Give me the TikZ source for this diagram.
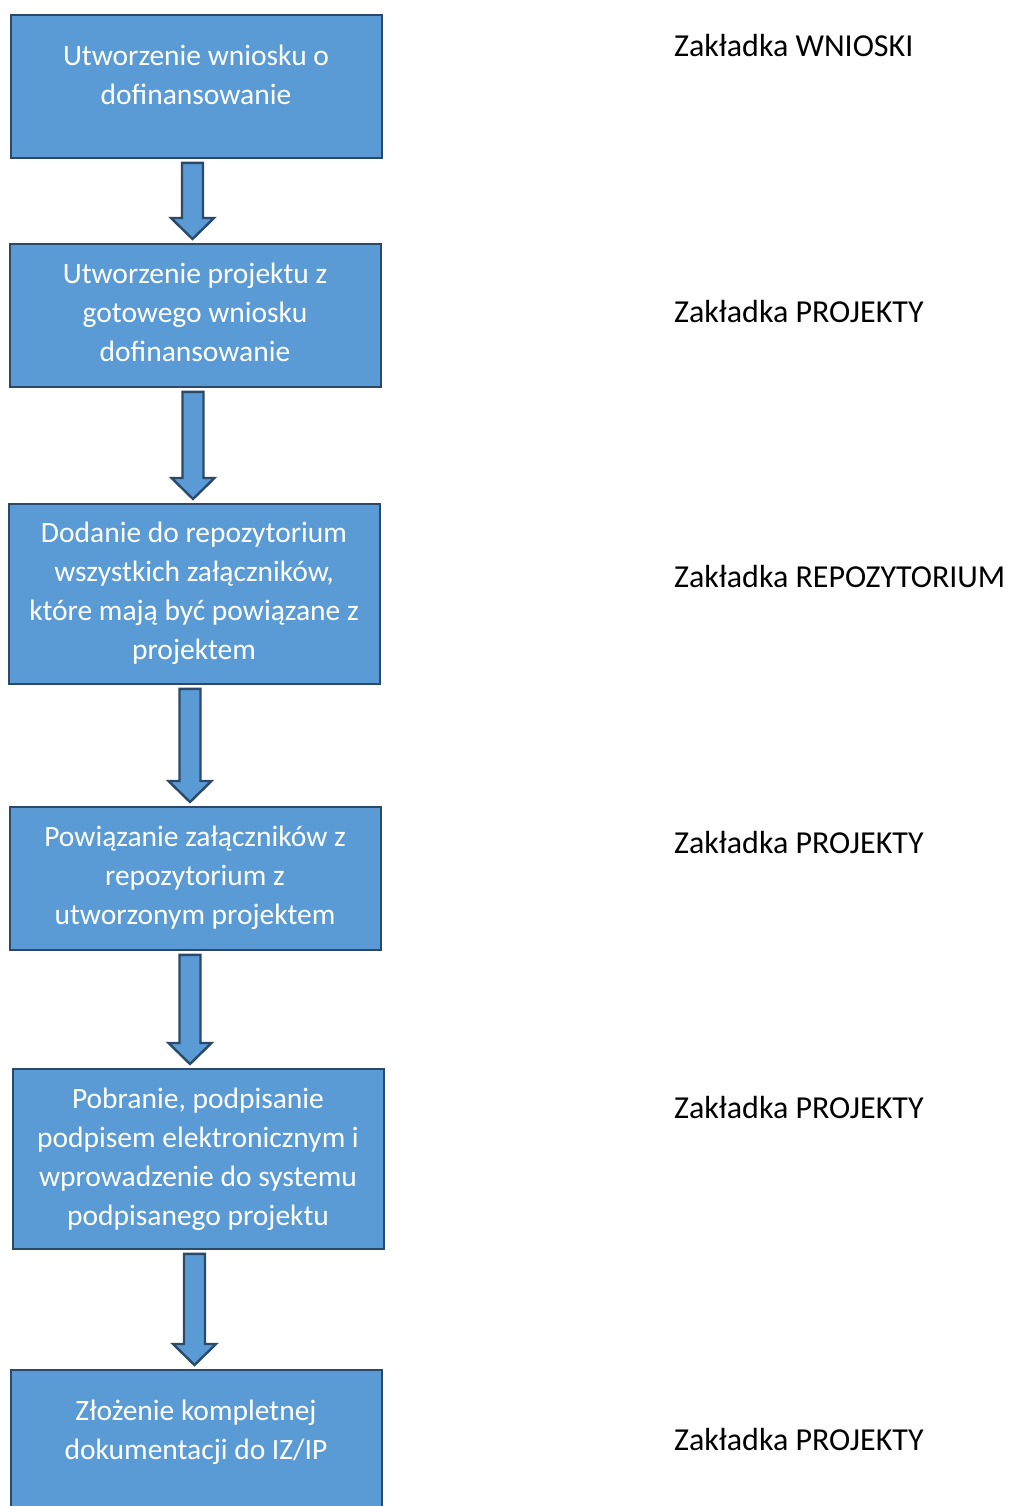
\documentclass[tikz,border=0pt]{standalone}
\usepackage{fontspec}
\setmainfont{Carlito}
\usetikzlibrary{calc}
\definecolor{boxfill}{HTML}{5B9BD5}
\definecolor{boxline}{HTML}{2B4A69}
\tikzset{
  box/.style={draw=boxline, fill=boxfill, line width=2.4pt, minimum width=371pt, inner sep=0pt, anchor=north west},
  boxtext/.style={text=white, align=center, font=\fontsize{29.5}{39}\selectfont, inner sep=0pt},
  tab/.style={anchor=west, inner sep=0pt, font=\fontsize{32}{39}\selectfont, text=black},
  blockarrow/.style={draw=boxline, fill=boxfill, line width=2.4pt, line join=miter}
}
\newcommand{\blockarr}[3]{% from node, to node, x
  \path let \p1=(#1.south), \p2=(#2.north) in
    [blockarrow] (#3-10.5pt, \y1-3.5pt) -- (#3+10.5pt, \y1-3.5pt) -- (#3+10.5pt, \y2+25pt)
    -- (#3+21.5pt, \y2+25pt) -- (#3, \y2+4pt) -- (#3-21.5pt, \y2+25pt) -- (#3-10.5pt, \y2+25pt) -- cycle;
}
\begin{document}
\begin{tikzpicture}[x=1pt,y=-1pt]
\useasboundingbox (0,0) rectangle (1011,1506);
\node[box, minimum height=143pt] (b1) at (10,14) {};
\node[box, minimum height=143pt] (b2) at (9,243) {};
\node[box, minimum height=180pt] (b3) at (8,503) {};
\node[box, minimum height=143pt] (b4) at (9,806) {};
\node[box, minimum height=180pt] (b5) at (12,1068) {};
\node[box, minimum height=160pt] (b6) at (10,1369) {};

\node[boxtext] (t1) at (196,74.5) {Utworzenie wniosku o\\dofinansowanie};
\node[boxtext] (t2) at (195,312.5) {Utworzenie projektu z\\gotowego wniosku\\dofinansowanie};
\node[boxtext] (t3) at (194,593.5) {Dodanie do repozytorium\\wszystkich załączników,\\które mają być powiązane z\\projektem};
\node[boxtext] (t4) at (195,877.5) {Powiązanie załączników z\\repozytorium z\\utworzonym projektem};
\node[boxtext] (t5) at (198,1159) {Pobranie, podpisanie\\podpisem elektronicznym i\\wprowadzenie do systemu\\podpisanego projektu};
\node[boxtext] (t6) at (196,1432) {Złożenie kompletnej\\dokumentacji do IZ/IP};

\blockarr{b1}{b2}{192.5}
\blockarr{b2}{b3}{193}
\blockarr{b3}{b4}{190}
\blockarr{b4}{b5}{190}
\blockarr{b5}{b6}{194.5}

\node[tab] (l1) at (674,46) {Zakładka WNIOSKI};
\node[tab] (l2) at (674,312) {Zakładka PROJEKTY};
\node[tab] (l3) at (674,577) {Zakładka REPOZYTORIUM};
\node[tab] (l4) at (674,842) {Zakładka PROJEKTY};
\node[tab] (l5) at (674,1107) {Zakładka PROJEKTY};
\node[tab] (l6) at (674,1439) {Zakładka PROJEKTY};
\end{tikzpicture}
\end{document}
